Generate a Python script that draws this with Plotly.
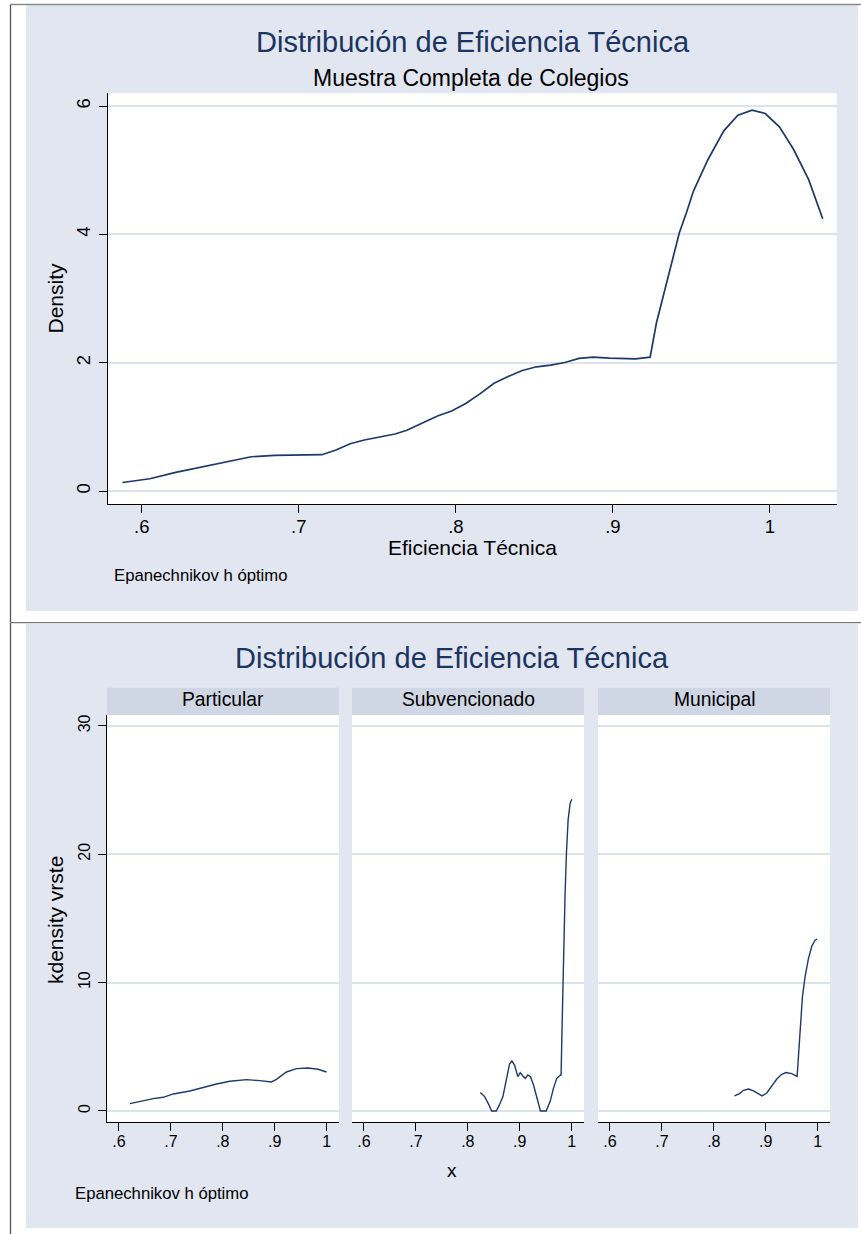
import plotly.graph_objects as go

W, H = 861, 1234

# Kernel density of technical efficiency, full sample of schools
eff_all = [0.5877, 0.6051, 0.6216, 0.6366, 0.6517, 0.6622, 0.6697, 0.6847, 0.6997, 0.7147,
           0.7237, 0.7327, 0.7417, 0.7508, 0.7613, 0.7688, 0.7793, 0.7883, 0.7973, 0.8063,
           0.8153, 0.8243, 0.8333, 0.8423, 0.8514, 0.8604, 0.8694, 0.8784, 0.8874, 0.8979,
           0.9144, 0.9237, 0.9277, 0.9330, 0.9378, 0.9423, 0.9468, 0.9513, 0.9604, 0.9706,
           0.9796, 0.9886, 0.9970, 1.0060, 1.0150, 1.0246, 1.0336]
dens_all = [0.135, 0.193, 0.292, 0.370, 0.443, 0.505, 0.536, 0.557, 0.557, 0.568,
            0.641, 0.740, 0.797, 0.844, 0.891, 0.948, 1.068, 1.172, 1.250, 1.365,
            1.516, 1.682, 1.786, 1.880, 1.938, 1.964, 2.005, 2.068, 2.089, 2.073,
            2.063, 2.089, 2.620, 3.141, 3.609, 4.026, 4.339, 4.677, 5.161, 5.615,
            5.859, 5.938, 5.885, 5.677, 5.328, 4.859, 4.245]

# Densities by school type
eff_part = [0.6212, 0.6468, 0.6660, 0.6853, 0.7045, 0.7365, 0.7622, 0.7878, 0.8135, 0.8455,
            0.8712, 0.8936, 0.9032, 0.9224, 0.9417, 0.9641, 0.9833, 0.9994]
dens_part = [0.571, 0.805, 0.960, 1.064, 1.324, 1.557, 1.843, 2.102, 2.310, 2.440,
             2.362, 2.258, 2.466, 3.037, 3.296, 3.348, 3.244, 3.037]

eff_subv = [0.8240, 0.8323, 0.8406, 0.8458, 0.8547, 0.8598, 0.8675, 0.8739, 0.8803, 0.8848,
            0.8899, 0.8963, 0.9008, 0.9059, 0.9104, 0.9155, 0.9206, 0.9264, 0.9315, 0.9379,
            0.9398, 0.9507, 0.9584, 0.9648, 0.9712, 0.9782, 0.9795, 0.9814, 0.9840, 0.9872,
            0.9898, 0.9930, 0.9968, 1.0000]
dens_subv = [1.43, 1.12, 0.47, 0.0, 0.0, 0.39, 1.12, 2.41, 3.66, 3.89,
             3.58, 2.67, 2.98, 2.72, 2.54, 2.80, 2.67, 2.02, 1.25, 0.08,
             0.0, 0.0, 0.73, 1.76, 2.54, 2.80, 2.80, 6.56, 11.75, 16.94,
             20.05, 22.65, 23.94, 24.28]

eff_muni = [0.8397, 0.8494, 0.8571, 0.8667, 0.8763, 0.8840, 0.8929, 0.9019, 0.9115, 0.9212,
            0.9308, 0.9391, 0.9500, 0.9603, 0.9628, 0.9660, 0.9705, 0.9756, 0.9821, 0.9885,
            0.9949, 0.9987]
dens_muni = [1.17, 1.35, 1.61, 1.71, 1.56, 1.35, 1.17, 1.40, 1.95, 2.49,
             2.86, 2.99, 2.91, 2.70, 4.21, 6.55, 8.88, 10.44, 11.87, 12.83,
             13.30, 13.38]

panel_names = ["Particular", "Subvencionado", "Municipal"]
x_ticks = [0.6, 0.7, 0.8, 0.9, 1.0]
x_ticktext = [".6", ".7", ".8", ".9", "1"]
y_ticks_all = [0, 2, 4, 6]
y_ticks_type = [0, 10, 20, 30]

FONT = "Liberation Sans, Arial, Helvetica, sans-serif"
LAV = "#E1E6F0"
STRIP = "#D0D7E4"
GRID = "#DCE2EE"
NAVY = "rgb(30,57,105)"
TITLE_C = "rgb(28,52,96)"


def px(x):
    return x / W


def py(y):
    return 1 - y / H


fig = go.Figure()

fig.add_trace(go.Scatter(x=eff_all, y=dens_all, mode="lines",
                         line=dict(color=NAVY, width=1.7), xaxis="x", yaxis="y",
                         showlegend=False, hoverinfo="skip"))
for i, (xs, ys) in enumerate([(eff_part, dens_part), (eff_subv, dens_subv), (eff_muni, dens_muni)]):
    fig.add_trace(go.Scatter(x=xs, y=ys, mode="lines",
                             line=dict(color=NAVY, width=1.4),
                             xaxis=f"x{i + 2}", yaxis=f"y{i + 2}",
                             showlegend=False, hoverinfo="skip"))

tick_font_top = dict(family=FONT, size=18.5, color="black")
tick_font_bot = dict(family=FONT, size=16, color="black")

xcommon = dict(showline=True, linecolor="black", linewidth=1.3, ticks="outside",
               ticklen=8, tickwidth=1.2, tickcolor="black", showgrid=False,
               zeroline=False, tickvals=x_ticks, ticktext=x_ticktext, fixedrange=True)
ycommon = dict(showgrid=True, gridcolor=GRID, gridwidth=1.6, zeroline=False,
               fixedrange=True)

layout = dict(
    width=W, height=H, margin=dict(l=0, r=0, t=0, b=0),
    paper_bgcolor="white", plot_bgcolor="white", showlegend=False,
    xaxis=dict(domain=[px(108), px(836.7)], range=[0.5785, 1.0425], anchor="y",
               tickfont=tick_font_top, ticklabelstandoff=-2, **xcommon),
    yaxis=dict(domain=[py(504), py(93.3)], range=[-0.2, 6.2], anchor="x",
               tickvals=y_ticks_all, ticktext=[str(v) for v in y_ticks_all],
               tickangle=-90, tickfont=tick_font_top, showline=True,
               linecolor="black", linewidth=1.3, ticks="outside", ticklen=8,
               tickwidth=1.2, tickcolor="black", ticklabelstandoff=1, **ycommon),
)

panel_x = [(107, 339), (352, 584), (598, 830)]
for i, (a, b) in enumerate(panel_x):
    n = i + 2
    layout[f"xaxis{n}"] = dict(domain=[px(a), px(b)], range=[0.577, 1.0236],
                               anchor=f"y{n}", tickfont=tick_font_bot,
                               ticklabelstandoff=-3, **xcommon)
    ydict = dict(domain=[py(1122), py(715)], range=[-0.86, 30.84], anchor=f"x{n}",
                 tickvals=y_ticks_type, **ycommon)
    if i == 0:
        ydict.update(ticktext=[str(v) for v in y_ticks_type], tickangle=-90,
                     tickfont=tick_font_bot, showline=True, linecolor="black",
                     linewidth=1.3, ticks="outside", ticklen=8, tickwidth=1.2,
                     tickcolor="black", ticklabelstandoff=1)
    else:
        ydict.update(showticklabels=False, showline=False, ticks="")
    layout[f"yaxis{n}"] = ydict

fig.update_layout(**layout)

# Background regions, plot areas and strips
shapes = []


def rect(x0, y0, x1, y1, color):
    shapes.append(dict(type="rect", xref="paper", yref="paper", layer="below",
                       x0=px(x0), x1=px(x1), y0=py(y1), y1=py(y0),
                       fillcolor=color, line=dict(width=0)))


def line(x0, y0, x1, y1, color="#6E6E6E", width=1.3):
    shapes.append(dict(type="line", xref="paper", yref="paper", layer="above",
                       x0=px(x0), x1=px(x1), y0=py(y0), y1=py(y1),
                       line=dict(color=color, width=width)))


rect(26, 5, 858, 611, LAV)
rect(26, 624, 858, 1228, LAV)
rect(108, 93.3, 836.7, 504, "white")
for a, b in panel_x:
    rect(a, 715, b, 1122, "white")
    rect(a, 687.7, b, 715, STRIP)

line(10.5, 4.5, 10.5, 1234, "#555555")
line(10, 4.5, 861, 4.5, "#8A8A8A")
line(10, 622.7, 861, 622.7, "#777777")
fig.update_layout(shapes=shapes)

# Text
ann = []


def text(t, x, y, size, color="black", xanchor="center", angle=0):
    ann.append(dict(text=t, x=px(x), y=py(y), xref="paper", yref="paper",
                    xanchor=xanchor, yanchor="middle", showarrow=False,
                    textangle=angle, font=dict(family=FONT, size=size, color=color)))


text("Distribución de Eficiencia Técnica", 472.5, 41.9, 29, TITLE_C)
text("Muestra Completa de Colegios", 471, 78, 23)
text("Density", 55, 298.5, 21, angle=-90)
text("Eficiencia Técnica", 472, 547.6, 21)
text("Epanechnikov h óptimo", 112.3, 575.9, 16.7, xanchor="left")

text("Distribución de Eficiencia Técnica", 452, 657.9, 29, TITLE_C)
for (a, b), name in zip(panel_x, panel_names):
    text(name, (a + b) / 2, 699.2, 19.3)
text("kdensity vrste", 55, 920, 21, angle=-90)
text("x", 451.7, 1170.6, 19)
text("Epanechnikov h óptimo", 72.7, 1193.5, 16.7, xanchor="left")

fig.update_layout(annotations=ann)

fig.write_html("out.html")
